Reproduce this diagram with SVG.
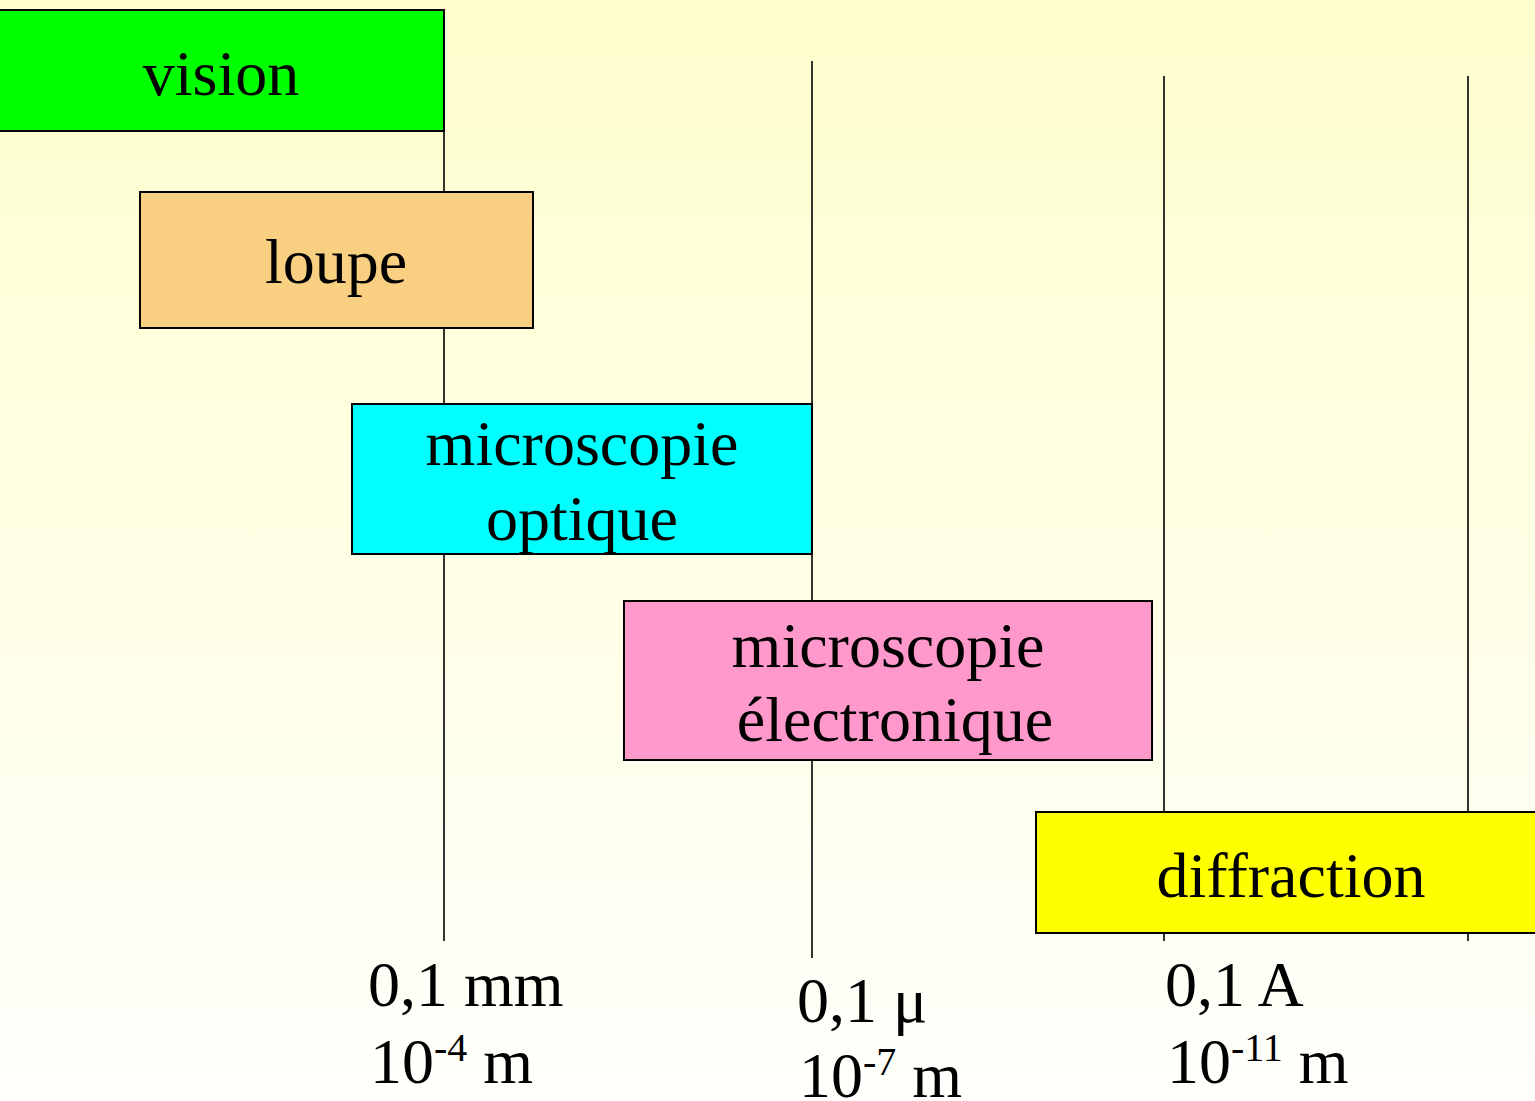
<svg xmlns="http://www.w3.org/2000/svg" width="1535" height="1101" viewBox="0 0 1535 1101">
<defs>
<linearGradient id="bg" x1="0" y1="0" x2="0" y2="1">
<stop offset="0" stop-color="#FFFFCE"/>
<stop offset="1" stop-color="#FFFFFC"/>
</linearGradient>
</defs>
<style>
.box{stroke:#000;stroke-width:2}
.lbl{font-family:"Liberation Serif","Times New Roman",serif;font-size:64px;fill:#000;text-anchor:middle}
.ax{font-family:"Liberation Serif","Times New Roman",serif;font-size:64px;fill:#000}
.sup{font-size:40px}
.tick{stroke:#000;stroke-width:1.6;fill:none}
</style>
<rect x="0" y="0" width="1535" height="1101" fill="url(#bg)"/>
<g id="connectors">
<line class="tick" x1="444" y1="10" x2="444" y2="941"/>
<line class="tick" x1="812" y1="61" x2="812" y2="958"/>
<line class="tick" x1="1164" y1="76" x2="1164" y2="941"/>
<line class="tick" x1="1468" y1="76" x2="1468" y2="941"/>
</g>
<g id="vision">
<rect class="box" x="-2" y="10" width="446" height="121" fill="#00FF00"/>
<text class="lbl" x="221" y="95">vision</text>
</g>
<g id="loupe">
<rect class="box" x="140" y="192" width="393" height="136" fill="#F9D082"/>
<text class="lbl" x="336" y="283">loupe</text>
</g>
<g id="microscopie-optique">
<rect class="box" x="352" y="404" width="460" height="150" fill="#00FFFF"/>
<text class="lbl" x="582" y="465">microscopie</text>
<text class="lbl" x="582" y="540">optique</text>
</g>
<g id="microscopie-electronique">
<rect class="box" x="624" y="601" width="528" height="159" fill="#FF99CC"/>
<text class="lbl" x="888" y="667">microscopie</text>
<text class="lbl" x="895" y="741">électronique</text>
</g>
<g id="diffraction">
<rect class="box" x="1036" y="812" width="502" height="121" fill="#FFFF00"/>
<text class="lbl" x="1291" y="897">diffraction</text>
</g>
<g id="axis-labels">
<text class="ax" x="368" y="1006">0,1 mm</text>
<text class="ax" x="370" y="1083">10<tspan class="sup" dy="-22">-4</tspan><tspan dy="22"> m</tspan></text>
<text class="ax" x="797" y="1022">0,1 μ</text>
<text class="ax" x="799" y="1097">10<tspan class="sup" dy="-22">-7</tspan><tspan dy="22"> m</tspan></text>
<text class="ax" x="1165" y="1006">0,1 A</text>
<text class="ax" x="1167" y="1083">10<tspan class="sup" dy="-22">-11</tspan><tspan dy="22"> m</tspan></text>
</g>
</svg>
